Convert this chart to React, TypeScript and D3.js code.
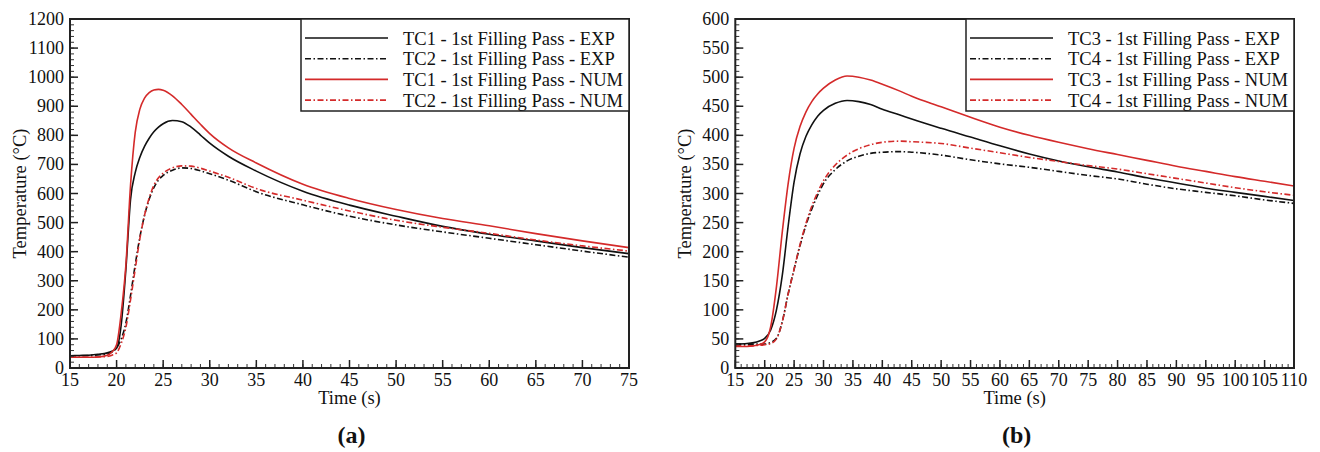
import React from "react";
import * as d3 from "d3";

// ---------- data ----------
const timesA = [15,16,17,18,19,19.5,20,20.5,21,21.5,22,22.5,23,23.5,24,24.5,25,26,27,28,29,30,32,35,40,45,50,55,60,65,70,75];
const tc1Exp = [42,43,44,47,52,58,68,150,340,580,672,725,762,790,812,828,840,851,847,828,801,773,728,677,608,560,522,487,460,437,414,393];
const tc2Exp = [41,42,43,45,48,55,70,100,155,250,355,450,525,580,620,646,662,680,688,686,678,668,646,606,561,522,492,468,446,424,402,381];
const tc1Num = [37,37,37,38,44,55,80,190,355,630,810,890,928,947,956,958,955,936,906,872,838,806,757,705,632,583,545,514,489,462,437,414];
const tc2Num = [37,37,37,38,40,44,52,85,140,235,340,445,525,585,628,654,670,688,695,694,687,677,656,617,577,540,508,484,463,440,420,402];

const timesB = [15,17,19,20,21,22,23,24,25,26,27,28,29,30,32,34,36,38,40,43,45,50,55,60,65,70,75,80,85,90,95,100,105,110];
const tc3Exp = [41,42,46,51,65,100,160,245,320,368,398,418,433,443,455,460,458,453,445,435,428,412,397,382,368,356,346,337,327,318,309,302,295,288];
const tc4Exp = [41,41,41,41,44,51,80,128,170,210,245,273,297,317,341,356,364,369,371,372,371,366,358,351,345,338,331,325,316,308,302,296,289,283];
const tc3Num = [37,37,40,45,70,140,235,318,378,415,440,458,471,481,495,502,500,495,488,476,467,449,431,414,400,388,377,367,357,347,338,329,321,313];
const tc4Num = [38,38,39,40,42,50,80,128,170,212,248,278,302,322,349,366,377,384,388,390,389,386,378,370,362,355,348,342,334,326,318,310,303,297];

const legendA = ["TC1 - 1st Filling Pass - EXP","TC2 - 1st Filling Pass - EXP","TC1 - 1st Filling Pass - NUM","TC2 - 1st Filling Pass - NUM"];
const legendB = ["TC3 - 1st Filling Pass - EXP","TC4 - 1st Filling Pass - EXP","TC3 - 1st Filling Pass - NUM","TC4 - 1st Filling Pass - NUM"];

const xTicksA = [15,20,25,30,35,40,45,50,55,60,65,70,75];
const yTicksA = [0,100,200,300,400,500,600,700,800,900,1000,1100,1200];
const xTicksB = [15,20,25,30,35,40,45,50,55,60,65,70,75,80,85,90,95,100,105,110];
const yTicksB = [0,50,100,150,200,250,300,350,400,450,500,550,600];

const xTitle = "Time (s)";
const yTitle = "Temperature (°C)";

// ---------- style ----------
const FONT = "'Liberation Serif', 'Times New Roman', serif";
const RED = "#d42a2a";
const BLACK = "#111";
const DASHDOT = "6,2.5,1.5,2.5";

type Series = { t: number[]; v: number[]; color: string; dash?: string };

function Panel(props: {
  x0: number; x1: number; y0: number; y1: number;
  xDomain: [number, number]; yDomain: [number, number];
  xTicks: number[]; yTicks: number[]; xMinor: number; yMinor: number;
  series: Series[]; legend: string[]; legendX: number; label: string;
}) {
  const { x0, x1, y0, y1 } = props;
  const x = d3.scaleLinear().domain(props.xDomain).range([x0, x1]);
  const y = d3.scaleLinear().domain(props.yDomain).range([y1, y0]);
  const xm = d3.range(props.xDomain[0], props.xDomain[1] + 1e-9, props.xMinor);
  const ym = d3.range(props.yDomain[0], props.yDomain[1] + 1e-9, props.yMinor);
  const line = (s: Series) =>
    d3.line<number>().x((_, i) => x(s.t[i])).y((d) => y(d)).curve(d3.curveMonotoneX)(s.v) || "";
  const cx = (x0 + x1) / 2;
  const cy = (y0 + y1) / 2;
  const legW = 328;
  const lx = props.legendX;
  return (
    <g>
      <defs>
        <clipPath id={"clip" + props.label}>
          <rect x={x0} y={y0} width={x1 - x0} height={y1 - y0} />
        </clipPath>
      </defs>
      <g clipPath={`url(#clip${props.label})`}>
        {props.series.map((s, i) => (
          <path key={i} d={line(s)} fill="none" stroke={s.color} strokeWidth={1.6} strokeDasharray={s.dash} />
        ))}
      </g>
      {xm.map((v, i) => (
        <line key={"xm" + i} x1={x(v)} x2={x(v)} y1={y1} y2={y1 - 4} stroke="#333" strokeWidth={1} />
      ))}
      {ym.map((v, i) => (
        <line key={"ym" + i} x1={x0} x2={x0 + 4} y1={y(v)} y2={y(v)} stroke="#333" strokeWidth={1} />
      ))}
      {props.xTicks.map((v, i) => (
        <g key={"xt" + i}>
          <line x1={x(v)} x2={x(v)} y1={y1} y2={y1 - 8} stroke="#222" strokeWidth={1.5} />
          <text x={x(v)} y={y1 + 18} textAnchor="middle" fontSize={18} fontFamily={FONT} fill="#111">{v}</text>
        </g>
      ))}
      {props.yTicks.map((v, i) => (
        <g key={"yt" + i}>
          <line x1={x0} x2={x0 + 8} y1={y(v)} y2={y(v)} stroke="#222" strokeWidth={1.5} />
          <text x={x0 - 6} y={y(v) + 6} textAnchor="end" fontSize={18} fontFamily={FONT} fill="#111">{v}</text>
        </g>
      ))}
      <rect x={x0} y={y0} width={x1 - x0} height={y1 - y0} fill="none" stroke="#222" strokeWidth={2} />
      <rect x={lx} y={y0} width={legW} height={92} fill="#fff" stroke="#222" strokeWidth={1.5} />
      {props.legend.map((t, i) => {
        const ly = y0 + 19 + i * 20.7;
        const s = props.series[i];
        return (
          <g key={"lg" + i}>
            <line x1={lx + 4} x2={lx + 87} y1={ly} y2={ly} stroke={s.color} strokeWidth={1.6} strokeDasharray={s.dash} />
            <text x={lx + 102} y={ly + 6.5} fontSize={18.5} fontFamily={FONT} fill="#111">{t}</text>
          </g>
        );
      })}
      <text x={cx} y={y1 + 36} textAnchor="middle" fontSize={18.5} fontFamily={FONT} fill="#111">{xTitle}</text>
      <text transform={`translate(${x0 - 44},${cy}) rotate(-90)`} textAnchor="middle" fontSize={18.5} fontFamily={FONT} fill="#111">{yTitle}</text>
      <text x={cx + 2} y={y1 + 75} textAnchor="middle" fontSize={24} fontWeight="bold" fontFamily={FONT} fill="#111">{`(${props.label})`}</text>
    </g>
  );
}

export default function App() {
  const seriesA: Series[] = [
    { t: timesA, v: tc1Exp, color: BLACK },
    { t: timesA, v: tc2Exp, color: BLACK, dash: DASHDOT },
    { t: timesA, v: tc1Num, color: RED },
    { t: timesA, v: tc2Num, color: RED, dash: DASHDOT },
  ];
  const seriesB: Series[] = [
    { t: timesB, v: tc3Exp, color: BLACK },
    { t: timesB, v: tc4Exp, color: BLACK, dash: DASHDOT },
    { t: timesB, v: tc3Num, color: RED },
    { t: timesB, v: tc4Num, color: RED, dash: DASHDOT },
  ];
  return (
    <svg width={1320} height={452} style={{ position: "absolute", left: 0, top: 0, background: "#fff" }}>
      <rect width={1320} height={452} fill="#fff" />
      <Panel x0={70} x1={629} y0={19} y1={368} xDomain={[15, 75]} yDomain={[0, 1200]}
        xTicks={xTicksA} yTicks={yTicksA} xMinor={1} yMinor={20}
        series={seriesA} legend={legendA} legendX={301} label="a" />
      <Panel x0={735.3} x1={1294} y0={19} y1={368} xDomain={[15, 110]} yDomain={[0, 600]}
        xTicks={xTicksB} yTicks={yTicksB} xMinor={1} yMinor={10}
        series={seriesB} legend={legendB} legendX={966} label="b" />
    </svg>
  );
}
